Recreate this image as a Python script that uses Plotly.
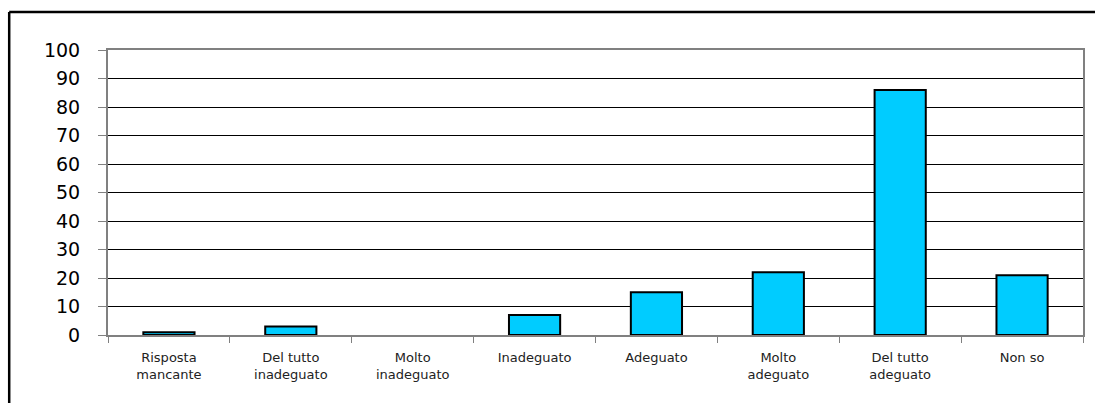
import plotly.graph_objects as go

categories = ["Risposta<br>mancante", "Del tutto<br>inadeguato", "Molto<br>inadeguato",
              "Inadeguato", "Adeguato", "Molto<br>adeguato", "Del tutto<br>adeguato", "Non so"]
values = [1, 3, 0, 7, 15, 22, 86, 21]
y_ticks = [0, 10, 20, 30, 40, 50, 60, 70, 80, 90, 100]

W, H = 1095, 403
L, R, T, B = 108, 10, 50, 68
pw, ph = W - L - R, H - T - B

fig = go.Figure(go.Bar(
    x=categories, y=values,
    marker=dict(color="#00CCFF",
                line=dict(color="black", width=[2 if v > 0 else 0 for v in values])),
    width=0.42,
))

fig.update_layout(
    width=W, height=H,
    margin=dict(l=L, r=R, t=T, b=B),
    paper_bgcolor="white", plot_bgcolor="white",
    showlegend=False,
    font=dict(family="DejaVu Sans", color="black"),
    xaxis=dict(
        showgrid=False, ticks="outside", tickson="boundaries", ticklen=6,
        tickcolor="#808080", showline=True, linecolor="#808080", linewidth=2,
        mirror=True, tickfont=dict(size=13, family="DejaVu Sans", color="#222"),
        ticklabelstandoff=9,
    ),
    yaxis=dict(
        range=[0, 100], tickvals=y_ticks, ticks="outside", ticklen=8,
        tickcolor="#808080", showgrid=True, gridcolor="black", gridwidth=1,
        zeroline=False, showline=True, linecolor="#808080", linewidth=2,
        mirror=True, tickfont=dict(size=19, family="DejaVu Sans", color="black"),
        ticklabelstandoff=14,
    ),
)

# outer frame (left and top edges visible in the reference)
x0 = (9 - L) / pw
y0 = 1 + (T - 12) / ph
fig.add_shape(type="line", xref="paper", yref="paper", x0=x0, x1=1.5, y0=y0, y1=y0,
              line=dict(color="black", width=2.5))
fig.add_shape(type="line", xref="paper", yref="paper", x0=x0, x1=x0, y0=y0, y1=-0.5,
              line=dict(color="black", width=2.5))

fig.write_html("out.html", config={"displayModeBar": False},
               post_script="document.body.style.margin='0';document.body.style.overflow='hidden';")
